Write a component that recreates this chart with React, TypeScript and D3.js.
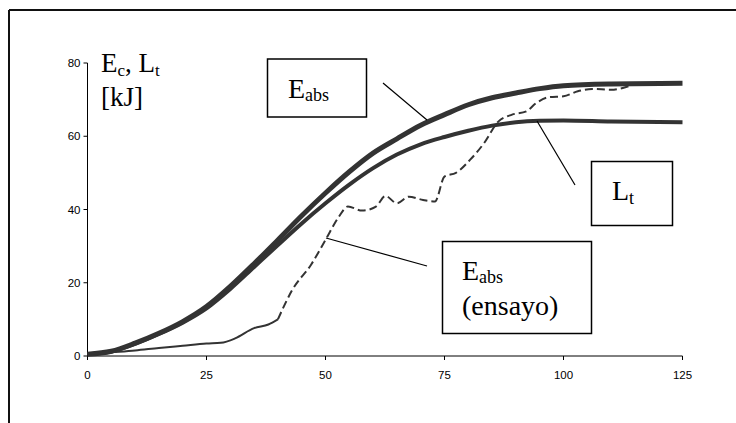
import React from "react";
import * as d3 from "d3";

const xTicks = [0, 25, 50, 75, 100, 125];
const yTicks = [0, 20, 40, 60, 80];

const eabsT = [0, 5, 10, 15, 20, 25, 30, 35, 40, 45, 50, 55, 60, 65, 70, 75, 80, 85, 90, 95, 100, 110, 125];
const eabsV = [0.5, 1.3, 3.5, 6.2, 9.4, 13.5, 19, 25.2, 31.7, 38.3, 44.5, 50.3, 55.4, 59.3, 63, 65.9, 68.6, 70.5, 71.8, 73, 73.8, 74.3, 74.5];

const ltT = [0, 5, 10, 15, 20, 25, 30, 35, 40, 45, 50, 55, 60, 65, 70, 75, 80, 85, 90, 95, 100, 110, 125];
const ltV = [0.5, 1.2, 3.3, 6, 9.1, 13, 18.3, 24.3, 30.3, 36.2, 41.7, 46.8, 51.3, 55, 57.8, 59.8, 61.5, 62.9, 63.8, 64.2, 64.3, 64, 63.8];

const ensT = [0, 5, 10, 15, 20, 25, 28, 31, 35, 38, 40, 43, 47, 50, 52.8, 54.7, 57.7, 60.6, 62.6, 65, 67.5, 70.5, 73, 75, 77.4, 80.4, 83.3, 86.3, 89.2, 92.2, 94.2, 97.1, 100, 103, 106, 110, 113, 114.4];
const ensV = [0.5, 1, 1.5, 2.2, 2.8, 3.4, 3.6, 4.8, 7.6, 8.6, 10, 18, 25, 31.7, 38, 40.8, 39.7, 40.8, 43.7, 41.7, 43.5, 42.6, 42.2, 49, 50, 53.6, 58.1, 64, 65.9, 66.8, 69, 70.7, 70.9, 72.3, 72.9, 72.7, 73.4, 74];

const W = 736;
const H = 423;

export default function App() {
  const x = d3.scaleLinear().domain([0, 125]).range([87.5, 682.5]);
  const y = d3.scaleLinear().domain([0, 80]).range([356, 63]);

  const mk = (ts: number[], vs: number[]) => ts.map((t, i) => [t, vs[i]] as [number, number]);
  const line = d3
    .line<[number, number]>()
    .x((d) => x(d[0]))
    .y((d) => y(d[1]))
    .curve(d3.curveMonotoneX);

  const ens = mk(ensT, ensV);
  const ensSolid = ens.filter((d) => d[0] <= 40);
  const ensDash = ens.filter((d) => d[0] >= 40);

  const serifStyle = { fontFamily: "'Times New Roman', 'Liberation Serif', 'DejaVu Serif', serif" };
  const sans = "'Liberation Sans', Arial, sans-serif";

  return (
    <svg width={W} height={H} style={{ position: "absolute", left: 0, top: 0, background: "#fff" }}>
      <line x1={9} y1={10} x2={W} y2={10} stroke="#111" strokeWidth={2} />
      <line x1={9} y1={10} x2={9} y2={H} stroke="#111" strokeWidth={2} />

      <line x1={x(0)} y1={y(0)} x2={x(125)} y2={y(0)} stroke="#000" strokeWidth={1} />
      <line x1={x(0)} y1={y(0)} x2={x(0)} y2={y(80)} stroke="#000" strokeWidth={1} />
      {yTicks.map((t) => (
        <g key={"y" + t}>
          <line x1={x(0) - 4} x2={x(0)} y1={y(t)} y2={y(t)} stroke="#000" />
          <text x={x(0) - 7} y={y(t) + 4} textAnchor="end" fontFamily={sans} fontSize={11.5}>
            {t}
          </text>
        </g>
      ))}
      {xTicks.map((t) => (
        <g key={"x" + t}>
          <line x1={x(t)} x2={x(t)} y1={y(0)} y2={y(0) + 4} stroke="#000" />
          <text x={x(t)} y={y(0) + 23} textAnchor="middle" fontFamily={sans} fontSize={11.5}>
            {t}
          </text>
        </g>
      ))}

      <g style={serifStyle}>
        <text x={101} y={72} fontSize={27}>
          E<tspan fontSize={17} dy={4}>c</tspan>
          <tspan dy={-4}>, L</tspan>
          <tspan fontSize={17} dy={4}>t</tspan>
        </text>
        <text x={101} y={106} fontSize={27}>
          [kJ]
        </text>
      </g>

      <path d={line(mk(eabsT, eabsV)) || ""} fill="none" stroke="#333" strokeWidth={5} />
      <path d={line(mk(ltT, ltV)) || ""} fill="none" stroke="#333" strokeWidth={4} />
      <path d={line(ensSolid) || ""} fill="none" stroke="#333" strokeWidth={2} />
      <path d={line(ensDash) || ""} fill="none" stroke="#333" strokeWidth={2} strokeDasharray="8,4" />

      <line x1={383} y1={83} x2={427} y2={120} stroke="#000" strokeWidth={1.2} />
      <line x1={537} y1={121} x2={575} y2={185} stroke="#000" strokeWidth={1.2} />
      <line x1={326} y1={238} x2={427} y2={266} stroke="#000" strokeWidth={1.2} />

      <g style={serifStyle}>
        <rect x={267.5} y={59} width={99} height={58} fill="#fff" stroke="#000" strokeWidth={1.5} />
        <text x={288} y={98} fontSize={28}>
          E<tspan fontSize={18} dy={3}>abs</tspan>
        </text>

        <rect x={591.5} y={161.5} width={81} height={64} fill="#fff" stroke="#000" strokeWidth={1.5} />
        <text x={612} y={200} fontSize={28}>
          L<tspan fontSize={18} dy={4}>t</tspan>
        </text>

        <rect x={442.5} y={241.5} width={149} height={92} fill="#fff" stroke="#000" strokeWidth={1.5} />
        <text x={462} y={280} fontSize={28}>
          E<tspan fontSize={18} dy={3}>abs</tspan>
        </text>
        <text x={462} y={315} fontSize={28}>
          (ensayo)
        </text>
      </g>
    </svg>
  );
}
